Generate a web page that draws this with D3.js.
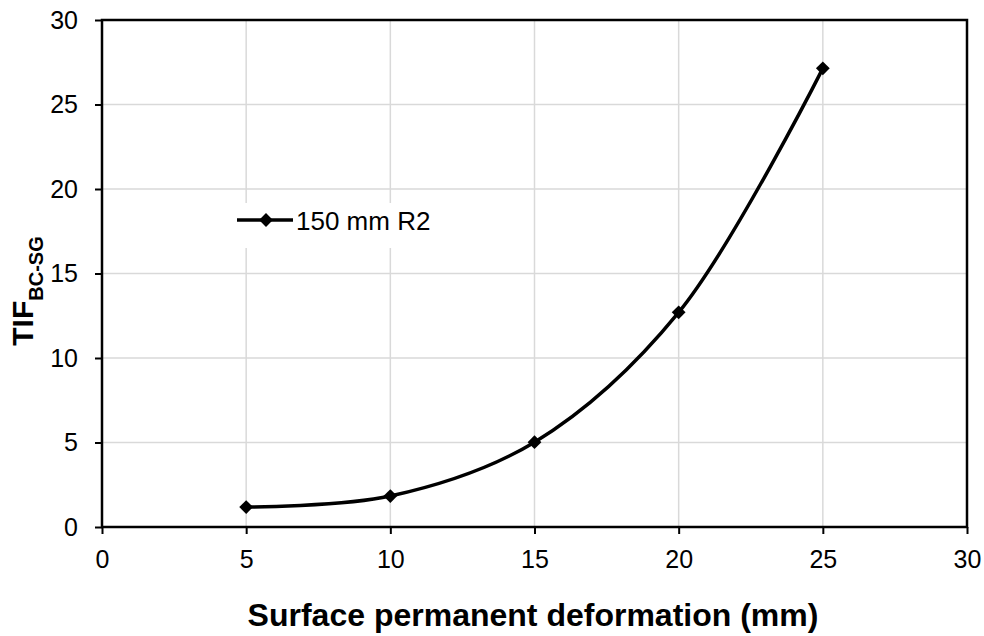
<!DOCTYPE html>
<html>
<head>
<meta charset="utf-8">
<script src="https://cdn.jsdelivr.net/npm/d3@7"></script>
<style>
  html, body { margin: 0; padding: 0; background: #fff; }
  svg { display: block; font-family: "Liberation Sans", Arial, sans-serif; }
</style>
</head>
<body>
<svg id="chart" width="984" height="636"></svg>
<script>
// Surface permanent deformation (mm) vs TIF for the 150 mm R2 section
const deformation = [5, 10, 15, 20, 25];
const tifValues = [1.18, 1.83, 5.02, 12.7, 27.14];
const xTicks = [0, 5, 10, 15, 20, 25, 30];
const yTicks = [0, 5, 10, 15, 20, 25, 30];
const seriesName = "150 mm R2";

const svg = d3.select("#chart");
const plotL = 102, plotR = 967, plotT = 20, plotB = 527;

const x = d3.scaleLinear().domain([0, 30]).range([plotL, plotR]);
const y = d3.scaleLinear().domain([0, 30]).range([plotB, plotT]);

// gridlines
const grid = svg.append("g").attr("stroke", "#d9d9d9").attr("stroke-width", 1.5);
grid.selectAll("line.v").data(xTicks.slice(1, -1)).join("line")
  .attr("class", "v")
  .attr("x1", d => x(d)).attr("x2", d => x(d))
  .attr("y1", plotT).attr("y2", plotB);
grid.selectAll("line.h").data(yTicks.slice(1, -1)).join("line")
  .attr("class", "h")
  .attr("x1", plotL).attr("x2", plotR)
  .attr("y1", d => y(d)).attr("y2", d => y(d));

// legend background sits over the grid
const legend = svg.append("g");
legend.append("rect").attr("x", 228).attr("y", 203).attr("width", 240).attr("height", 45).attr("fill", "#fff");

// axes
const xAxis = svg.append("g").attr("transform", `translate(0,${plotB})`)
  .call(d3.axisBottom(x).tickValues(xTicks).tickSize(7).tickPadding(16));
const yAxis = svg.append("g").attr("transform", `translate(${plotL},0)`)
  .call(d3.axisLeft(y).tickValues(yTicks).tickSize(7).tickPadding(17));
[xAxis, yAxis].forEach(a => {
  a.select(".domain").remove();
  a.selectAll("line").attr("stroke", "#000").attr("stroke-width", 2);
  a.selectAll("text").attr("fill", "#000").style("font-size", "25px")
    .style("font-family", "'Liberation Sans', Arial, sans-serif");
});

// plot frame
svg.append("rect").attr("x", plotL).attr("y", plotT)
  .attr("width", plotR - plotL).attr("height", plotB - plotT)
  .attr("fill", "none").attr("stroke", "#000").attr("stroke-width", 2.5);

// series
const pts = deformation.map((d, i) => [d, tifValues[i]]);
const line = d3.line().x(d => x(d[0])).y(d => y(d[1])).curve(d3.curveCatmullRom.alpha(0.5));
svg.append("path").datum(pts).attr("d", line)
  .attr("fill", "none").attr("stroke", "#000").attr("stroke-width", 3.5);

const marker = d3.symbol().type(d3.symbolSquare).size(95);
svg.selectAll("path.pt").data(pts).join("path")
  .attr("class", "pt")
  .attr("transform", d => `translate(${x(d[0])},${y(d[1])}) rotate(45)`)
  .attr("d", marker).attr("fill", "#000");

// legend content
legend.append("line").attr("x1", 237).attr("x2", 293).attr("y1", 220).attr("y2", 220)
  .attr("stroke", "#000").attr("stroke-width", 3.5);
legend.append("path").attr("transform", "translate(266,220) rotate(45)").attr("d", marker).attr("fill", "#000");
legend.append("text").attr("x", 296).attr("y", 230).style("font-size", "26px").text(seriesName);

// axis titles
svg.append("text").attr("x", 533).attr("y", 626)
  .attr("text-anchor", "middle").style("font-size", "32px").style("font-weight", "bold")
  .text("Surface permanent deformation (mm)");

const yt = svg.append("text").attr("transform", "translate(33,291) rotate(-90)")
  .attr("text-anchor", "middle").style("font-weight", "bold");
yt.append("tspan").style("font-size", "30px").text("TIF");
yt.append("tspan").style("font-size", "20px").attr("dy", 10).text("BC-SG");
</script>
</body>
</html>
